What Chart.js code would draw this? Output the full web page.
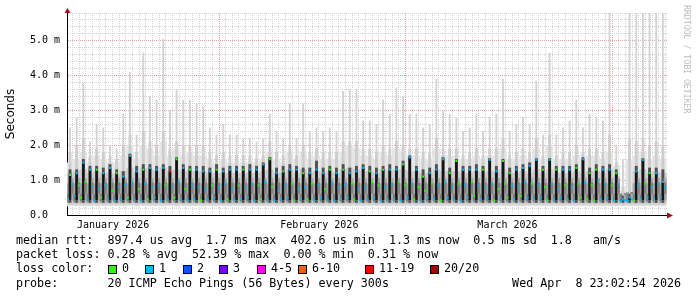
<!DOCTYPE html>
<html>
<head>
<meta charset="utf-8">
<title>SmokePing latency</title>
<script src="https://cdn.jsdelivr.net/npm/chart.js@4.4.1/dist/chart.umd.min.js"></script>
<style>
  html, body { margin: 0; padding: 0; background: #fff; }
  #wrap { width: 697px; height: 297px; }
</style>
</head>
<body>
<div id="wrap"><canvas id="smoke" width="697" height="297"></canvas></div>
<script>
// x is counted in days from 1 Jan 2026 00:00, one group of 3 samples per day
const firstDay = 8.3;
const monthStarts = [31, 59, 90];            // 1 Feb, 1 Mar, 1 Apr
const monthLabels = ['January 2026', 'February 2026', 'March 2026'];
const monthLabelAt = [15.1, 46.05, 74.3];

// values in ms, read per day off the picture
// top of the light smoke spike
const spikeMax = [
  2.5, 2.8, 3.8, 2.1, 2.6, 2.5, 2.0, 1.9, 2.9, 4.1,
  2.3, 4.65, 3.4, 3.3, 5.05, 3.0, 3.6, 3.3, 3.3, 3.2,
  3.1, 2.5, 2.3, 2.6, 2.3, 2.3, 2.2, 2.2, 2.1, 2.2,
  2.9, 2.4, 2.2, 3.2, 2.2, 3.2, 2.4, 2.5, 2.4, 2.5,
  2.4, 3.55, 3.6, 3.6, 2.7, 2.7, 2.6, 3.3, 2.9, 3.65,
  3.4, 2.9, 2.9, 2.5, 2.6, 3.9, 3.0, 2.9, 2.8, 2.4,
  2.5, 2.9, 2.4, 2.8, 2.9, 3.9, 2.4, 2.6, 2.8, 2.6,
  3.85, 2.3, 4.65, 2.3, 2.5, 2.7, 3.3, 2.5, 2.9, 2.8,
  2.7, 5.8, 2.0, 1.6, 5.8, 5.8, 5.8, 5.8, 5.8, 5.8
];
// grey smoke around the daily spike
const greyTop = [
  1.8, 2.0, 2.2, 1.7, 1.9, 1.8, 1.7, 1.6, 2.0, 2.3,
  1.8, 2.4, 2.1, 2.0, 2.4, 1.9, 2.1, 2.0, 2.0, 2.0,
  2.0, 1.8, 1.7, 1.8, 1.7, 1.7, 1.7, 1.7, 1.6, 1.7,
  2.1, 1.8, 1.7, 2.0, 1.7, 2.0, 1.8, 1.9, 1.8, 1.8,
  1.8, 2.1, 2.1, 2.1, 1.9, 1.9, 1.8, 2.0, 1.9, 2.1,
  2.0, 1.9, 1.9, 1.8, 1.8, 2.2, 1.9, 1.9, 1.9, 1.7,
  1.8, 1.9, 1.7, 1.9, 1.9, 2.2, 1.7, 1.8, 1.9, 1.8,
  2.2, 1.7, 2.3, 1.7, 1.8, 1.8, 2.0, 1.8, 1.9, 1.9,
  1.8, 2.3, 1.5, 0.8, 2.2, 2.1, 2.2, 2.0, 2.1, 2.0
];
// top of the dark daily bar
const darkTop = [
  1.3, 1.3, 1.6, 1.4, 1.4, 1.35, 1.45, 1.3, 1.25, 1.75,
  1.4, 1.45, 1.45, 1.4, 1.45, 1.4, 1.65, 1.45, 1.4, 1.4,
  1.4, 1.35, 1.45, 1.35, 1.4, 1.4, 1.4, 1.45, 1.4, 1.5,
  1.65, 1.35, 1.4, 1.45, 1.4, 1.35, 1.35, 1.55, 1.35, 1.4,
  1.35, 1.45, 1.35, 1.4, 1.45, 1.4, 1.35, 1.4, 1.45, 1.4,
  1.55, 1.7, 1.4, 1.3, 1.35, 1.45, 1.65, 1.35, 1.6, 1.4,
  1.4, 1.45, 1.4, 1.62, 1.4, 1.6, 1.35, 1.4, 1.45, 1.5,
  1.62, 1.4, 1.62, 1.4, 1.4, 1.4, 1.45, 1.65, 1.35, 1.45,
  1.4, 1.45, 1.3, 0.55, 0.6, 1.4, 1.62, 1.35, 1.35, 1.3
];
// light haze and grey band between the spikes
const hazeTop = [
  1.5, 1.6, 1.8, 1.5, 1.7, 1.6, 1.5, 1.5, 1.7, 2.0,
  1.6, 2.0, 1.9, 1.7, 2.1, 1.7, 1.9, 1.7, 1.8, 1.7,
  1.7, 1.6, 1.5, 1.6, 1.5, 1.5, 1.5, 1.5, 1.5, 1.6,
  1.8, 1.6, 1.5, 1.8, 1.6, 1.8, 1.6, 1.7, 1.6, 1.6,
  1.6, 1.8, 2.0, 1.9, 1.7, 1.7, 1.6, 1.8, 1.7, 1.9,
  1.8, 1.7, 1.7, 1.6, 1.6, 1.9, 1.7, 1.7, 1.7, 1.6,
  1.6, 1.7, 1.6, 1.7, 1.7, 1.9, 1.6, 1.6, 1.7, 1.6,
  1.9, 1.6, 2.0, 1.6, 1.6, 1.6, 1.7, 1.6, 1.7, 1.7,
  1.6, 1.8, 1.4, 0.7, 1.6, 1.7, 1.8, 1.6, 1.7, 1.6
];
const bandTop = [
  1.2, 1.25, 1.3, 1.2, 1.25, 1.2, 1.2, 1.15, 1.25, 1.35,
  1.2, 1.35, 1.3, 1.25, 1.35, 1.25, 1.3, 1.25, 1.25, 1.25,
  1.25, 1.2, 1.2, 1.2, 1.2, 1.2, 1.2, 1.2, 1.2, 1.25,
  1.3, 1.2, 1.2, 1.3, 1.2, 1.3, 1.2, 1.25, 1.2, 1.25,
  1.2, 1.3, 1.35, 1.3, 1.25, 1.25, 1.2, 1.3, 1.25, 1.3,
  1.3, 1.25, 1.25, 1.2, 1.2, 1.3, 1.25, 1.25, 1.25, 1.2,
  1.2, 1.25, 1.2, 1.25, 1.25, 1.3, 1.2, 1.2, 1.25, 1.2,
  1.3, 1.2, 1.3, 1.2, 1.2, 1.2, 1.25, 1.2, 1.25, 1.25,
  1.2, 1.3, 1.1, 0.6, 0.65, 1.25, 1.3, 1.2, 1.25, 1.2
];
// median rtt: night low, daily peak, evening level
const medLo = [
  0.45, 0.55, 0.5, 0.45, 0.42, 0.5, 0.45, 0.42, 0.45, 0.5,
  0.45, 0.42, 0.45, 0.5, 0.42, 0.45, 0.5, 0.45, 0.42, 0.45,
  0.42, 0.45, 0.5, 0.42, 0.45, 0.42, 0.45, 0.5, 0.42, 0.45,
  0.45, 0.42, 0.45, 0.5, 0.42, 0.45, 0.45, 0.42, 0.5, 0.45,
  0.42, 0.45, 0.5, 0.45, 0.42, 0.45, 0.5, 0.42, 0.45, 0.45,
  0.42, 0.5, 0.45, 0.42, 0.5, 0.45, 0.42, 0.5, 0.45, 0.42,
  0.5, 0.55, 0.45, 0.5, 0.42, 0.45, 0.5, 0.45, 0.55, 0.5,
  0.45, 0.5, 0.42, 0.45, 0.5, 0.45, 0.42, 0.5, 0.45, 0.42,
  0.45, 0.5, 0.42, 0.4, 0.4, 0.42, 0.45, 0.5, 0.45, 0.5
];
const medHi = [
  1.15, 1.2, 1.5, 1.3, 1.3, 1.2, 1.35, 1.2, 1.1, 1.7,
  1.25, 1.3, 1.35, 1.3, 1.35, 1.25, 1.6, 1.35, 1.3, 1.3,
  1.25, 1.25, 1.3, 1.25, 1.3, 1.3, 1.3, 1.3, 1.3, 1.45,
  1.6, 1.2, 1.25, 1.3, 1.3, 1.2, 1.2, 1.3, 1.2, 1.3,
  1.2, 1.3, 1.2, 1.25, 1.35, 1.25, 1.2, 1.3, 1.3, 1.3,
  1.45, 1.65, 1.3, 1.1, 1.2, 1.3, 1.6, 1.2, 1.55, 1.3,
  1.3, 1.3, 1.3, 1.58, 1.25, 1.55, 1.2, 1.3, 1.35, 1.4,
  1.58, 1.3, 1.58, 1.3, 1.3, 1.3, 1.35, 1.6, 1.2, 1.3,
  1.3, 1.3, 1.2, 0.45, 0.5, 1.25, 1.58, 1.2, 1.2, 0.95
];
const medMid = [
  0.9, 0.85, 0.95, 0.8, 0.75, 0.85, 0.7, 0.8, 0.85, 0.95,
  0.75, 0.9, 0.8, 0.85, 0.85, 0.8, 0.95, 0.75, 0.85, 0.8,
  0.75, 0.85, 0.8, 0.9, 0.75, 0.85, 0.8, 0.9, 0.85, 0.95,
  0.8, 0.7, 0.85, 0.9, 0.75, 0.8, 0.9, 0.85, 0.75, 0.95,
  0.8, 0.85, 0.9, 0.75, 0.8, 0.95, 0.85, 0.8, 0.9, 0.95,
  0.85, 0.9, 0.8, 0.7, 0.9, 0.85, 0.95, 0.8, 0.9, 0.85,
  0.95, 0.85, 0.8, 0.9, 0.75, 0.9, 0.85, 0.8, 0.95, 0.9,
  0.85, 0.8, 0.9, 0.75, 0.85, 0.8, 0.9, 0.95, 0.85, 1.0,
  0.9, 0.85, 0.9, 0.42, 0.45, 0.85, 0.9, 0.8, 0.9, 0.8
];
// lost pings per sample (low, peak, evening): 0 = none, 1 = one, r = 11-19
const lossSeen = [
  '101', '110', '010', '111', '101', '011', '110', '101', '111', '011',
  '110', '101', '011', '111', '110', '1r1', '001', '110', '101', '111',
  '011', '110', '101', '111', '011', '110', '101', '111', '110', '011',
  '100', '111', '101', '110', '011', '101', '010', '111', '110', '101',
  '111', '101', '110', '011', '111', '100', '110', '101', '111', '110',
  '100', '111', '010', '100', '110', '111', '011', '101', '100', '111',
  '110', '011', '101', '111', '010', '100', '001', '111', '011', '110',
  '111', '100', '011', '101', '110', '111', '100', '011', '000', '001',
  '111', '110', '101', '111', '111', '011', '110', '101', '111', '111'
];

const lossColors = { '0': '#26ff00', '1': '#00b8ff', 'r': '#ff0000' };

const legendLines = [
  'median rtt:  897.4 us avg  1.7 ms max  402.6 us min  1.3 ms now  0.5 ms sd  1.8   am/s',
  'packet loss: 0.28 % avg  52.39 % max  0.00 % min  0.31 % now',
  'loss color:',
  'probe:       20 ICMP Echo Pings (56 Bytes) every 300s'
];
const stampText = 'Wed Apr  8 23:02:54 2026';
const swatchLabels = ['0', '1', '2', '3', '4-5', '6-10', '11-19', '20/20'];
const swatchColors = ['#26ff00', '#00b8ff', '#0059ff', '#7e00ff', '#ff00ff', '#ff5e00', '#ff0000', '#a10000'];

// build the smoke layers, three samples a day
const spikes = [], haze = [], grey = [], mid = [], midColors = [], core = [], coreColors = [];
const medPts = [], medColors = [];
for (let k = 0; k < spikeMax.length; k++) {
  const d = firstDay + k;
  const band = bandTop[k];
  const samples = [
    { x: d, grey: band, mid: [0.36, Math.min(0.9, band)], midCol: '#a8a8a8',
      core: [0.4, Math.min(0.6, band)], coreCol: '#808080', med: medLo[k] },
    { x: d + 1 / 3, grey: greyTop[k], mid: [0.36, darkTop[k]], midCol: '#505050',
      core: [0.44, medHi[k]], coreCol: '#141414', med: medHi[k] },
    { x: d + 2 / 3, grey: band, mid: [0.42, Math.min(1.05, band)], midCol: '#a8a8a8',
      core: [0.62, Math.min(0.92, band)], coreCol: '#808080', med: medMid[k] }
  ];
  spikes.push({ x: d + 1 / 3, y: [0.28, spikeMax[k]] });
  samples.forEach((s, i) => {
    haze.push({ x: s.x, y: [0.26, hazeTop[k]] });
    grey.push({ x: s.x, y: [0.31, s.grey] });
    mid.push({ x: s.x, y: s.mid });
    midColors.push(s.midCol);
    core.push({ x: s.x, y: s.core });
    coreColors.push(s.coreCol);
    medPts.push({ x: s.x, y: s.med });
    medColors.push(lossColors[lossSeen[k][i]]);
  });
}

const isMajor = v => Math.abs(v - Math.round(v)) < 1e-6;

const decor = {
  id: 'decor',
  afterDraw(chart) {
    const { ctx, chartArea } = chart;
    const { left, right, top, bottom } = chartArea;
    ctx.save();

    // axis arrows
    ctx.fillStyle = '#a01010';
    ctx.beginPath();
    ctx.moveTo(left - 2.5, top);
    ctx.lineTo(left + 3.5, top);
    ctx.lineTo(left + 0.5, top - 5);
    ctx.closePath();
    ctx.fill();
    ctx.beginPath();
    ctx.moveTo(right, bottom - 2.5);
    ctx.lineTo(right, bottom + 3.5);
    ctx.lineTo(right + 6, bottom + 0.5);
    ctx.closePath();
    ctx.fill();

    // legend text
    ctx.fillStyle = '#000';
    ctx.font = '11.7px "DejaVu Sans Mono"';
    ctx.textBaseline = 'middle';
    ctx.textAlign = 'left';
    const rows = [241, 255, 269, 284];
    legendLines.forEach((t, i) => ctx.fillText(t, 16, rows[i]));
    ctx.textAlign = 'right';
    ctx.fillText(stampText, 681, rows[3]);

    // loss colour swatches
    ctx.textAlign = 'left';
    const swatchX = [108, 145, 183, 219, 257, 298, 365, 430];
    swatchLabels.forEach((lab, i) => {
      const x = swatchX[i];
      ctx.fillStyle = swatchColors[i];
      ctx.fillRect(x, rows[2] - 4, 8, 8);
      ctx.strokeStyle = '#000';
      ctx.lineWidth = 1;
      ctx.strokeRect(x + 0.5, rows[2] - 3.5, 8, 8);
      ctx.fillStyle = '#000';
      ctx.fillText(lab, x + 14, rows[2]);
    });

    // watermark
    ctx.translate(686, 5);
    ctx.rotate(Math.PI / 2);
    ctx.fillStyle = '#bdbdbd';
    ctx.font = '8.2px "DejaVu Sans Mono"';
    ctx.fillText('RRDTOOL / TOBI OETIKER', 0, 0);
    ctx.restore();
  }
};

const smokeBar = (label, data, color, width, order) => ({
  label, data, backgroundColor: color, barThickness: width, order,
  grouped: false, stack: 'smoke', borderWidth: 0
});

new Chart(document.getElementById('smoke').getContext('2d'), {
  type: 'bar',
  data: {
    datasets: [
      { type: 'scatter', label: 'median', data: medPts, showLine: false,
        borderColor: 'rgba(0,0,0,0)', backgroundColor: 'rgba(0,0,0,0)',
        pointStyle: 'rect', pointRadius: 1.4,
        pointBackgroundColor: medColors, pointBorderColor: medColors, pointBorderWidth: 0, order: 0 },
      smokeBar('core', core, coreColors, 1.8, 1),
      smokeBar('mid', mid, midColors, 2.25, 2),
      smokeBar('grey', grey, '#cdcdcd', 2.25, 3),
      smokeBar('spike', spikes, '#d2d2d2', 1.2, 4),
      smokeBar('haze', haze, '#e6e6e6', 2.25, 5)
    ]
  },
  options: {
    responsive: false,
    animation: false,
    events: [],
    layout: { padding: { left: 0, top: 13, right: 30, bottom: 66 } },
    plugins: { legend: { display: false }, tooltip: { enabled: false } },
    scales: {
      x: {
        type: 'linear', min: 8.18, max: 98.25, offset: false,
        afterBuildTicks: s => {
          const t = monthLabelAt.map(v => ({ value: v }));
          for (let d = 9; d <= 98; d++) t.push({ value: d });
          s.ticks = t;
        },
        ticks: {
          autoSkip: false, maxRotation: 0, padding: 4, color: '#000',
          font: { family: 'DejaVu Sans Mono', size: 10 },
          callback: v => {
            const i = monthLabelAt.indexOf(v);
            return i >= 0 ? monthLabels[i] : '';
          }
        },
        grid: {
          offset: false, drawTicks: false,
          color: c => {
            if (!c.tick) return '#d4d4d4';
            const v = c.tick.value;
            if (monthLabelAt.includes(v)) return 'rgba(0,0,0,0)';
            return monthStarts.includes(v) ? '#e8a0a0' : '#d4d4d4';
          }
        },
        border: { color: '#000', dash: [1, 1] },
        afterFit: s => { s.height = 16; }
      },
      y: {
        min: 0, max: 5.8, stacked: false,
        ticks: {
          stepSize: 0.2, autoSkip: false, padding: 7, color: '#000',
          font: { family: 'DejaVu Sans Mono', size: 10 },
          callback: v => isMajor(v) ? (Math.round(v) === 0 ? '0.0  ' : v.toFixed(1) + ' m') : ''
        },
        grid: {
          drawTicks: false,
          color: c => (c.tick && isMajor(c.tick.value)) ? '#e8a0a0' : '#d4d4d4'
        },
        border: { color: '#000', dash: [1, 1] },
        title: { display: true, text: 'Seconds', color: '#000',
          font: { family: 'DejaVu Sans', size: 12 }, padding: { top: 4, bottom: 0 } },
        afterFit: s => { s.width = 67; }
      }
    }
  },
  plugins: [decor]
});
</script>
</body>
</html>
